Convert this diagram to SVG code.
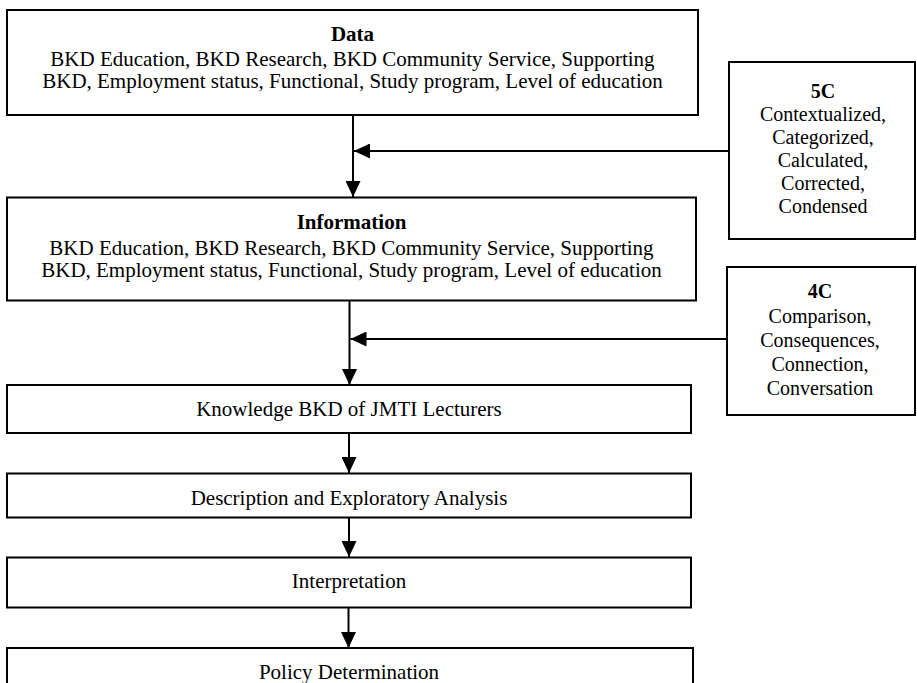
<svg xmlns="http://www.w3.org/2000/svg" width="917" height="683" viewBox="0 0 917 683">
<style>
.box{fill:#fff;stroke:#000;stroke-width:2}
.t{font-family:"Liberation Serif","Times New Roman",serif;font-size:21px;fill:#000;text-anchor:middle}
.s{font-family:"Liberation Serif","Times New Roman",serif;font-size:20px;fill:#000;text-anchor:middle}
.b{font-weight:bold}
.c{stroke:#000;stroke-width:2;fill:none}
</style>
<defs>
<marker id="ah" viewBox="0 0 16 15" refX="16" refY="7.5" markerWidth="16" markerHeight="15" markerUnits="userSpaceOnUse" orient="auto">
<path d="M0,0 L16,7.5 L0,15 z" fill="#000"/>
</marker>
</defs>
<rect width="917" height="683" fill="#fff"/>
<g id="connectors">
<line class="c" x1="353" y1="115" x2="353" y2="197" marker-end="url(#ah)"/>
<line class="c" x1="729" y1="151" x2="354" y2="151" marker-end="url(#ah)"/>
<line class="c" x1="349.5" y1="300" x2="349.5" y2="385" marker-end="url(#ah)"/>
<line class="c" x1="727" y1="339" x2="350.5" y2="339" marker-end="url(#ah)"/>
<line class="c" x1="349" y1="433" x2="349" y2="473" marker-end="url(#ah)"/>
<line class="c" x1="349" y1="517" x2="349" y2="557" marker-end="url(#ah)"/>
<line class="c" x1="348.5" y1="607" x2="348.5" y2="648" marker-end="url(#ah)"/>
</g>
<g id="data">
<rect class="box" x="7" y="10" width="691" height="105"/>
<text class="t b" x="352.5" y="41">Data</text>
<text class="t" x="352.5" y="66">BKD Education, BKD Research, BKD Community Service, Supporting</text>
<text class="t" x="352.5" y="88">BKD, Employment status, Functional, Study program, Level of education</text>
</g>
<g id="information">
<rect class="box" x="7" y="197.5" width="689" height="103"/>
<text class="t b" x="351.5" y="229">Information</text>
<text class="t" x="351.5" y="255">BKD Education, BKD Research, BKD Community Service, Supporting</text>
<text class="t" x="351.5" y="277">BKD, Employment status, Functional, Study program, Level of education</text>
</g>
<g id="c5">
<rect class="box" x="729" y="62" width="186" height="177"/>
<text class="s b" x="823" y="97.7">5C</text>
<text class="s" x="823" y="120.7">Contextualized,</text>
<text class="s" x="823" y="143.7">Categorized,</text>
<text class="s" x="823" y="166.7">Calculated,</text>
<text class="s" x="823" y="189.7">Corrected,</text>
<text class="s" x="823" y="212.7">Condensed</text>
</g>
<g id="c4">
<rect class="box" x="727" y="267" width="188" height="148"/>
<text class="s b" x="820" y="298">4C</text>
<text class="s" x="820" y="323">Comparison,</text>
<text class="s" x="820" y="347">Consequences,</text>
<text class="s" x="820" y="371">Connection,</text>
<text class="s" x="820" y="395">Conversation</text>
</g>
<g id="knowledge">
<rect class="box" x="7" y="385" width="684" height="48"/>
<text class="t" x="349" y="416">Knowledge BKD of JMTI Lecturers</text>
</g>
<g id="description">
<rect class="box" x="7" y="473.5" width="684" height="44"/>
<text class="t" x="349" y="505">Description and Exploratory Analysis</text>
</g>
<g id="interpretation">
<rect class="box" x="7" y="557.5" width="684" height="50"/>
<text class="t" x="349" y="588">Interpretation</text>
</g>
<g id="policy">
<rect class="box" x="7" y="648" width="686" height="45"/>
<text class="t" x="349" y="679">Policy Determination</text>
</g>
</svg>
